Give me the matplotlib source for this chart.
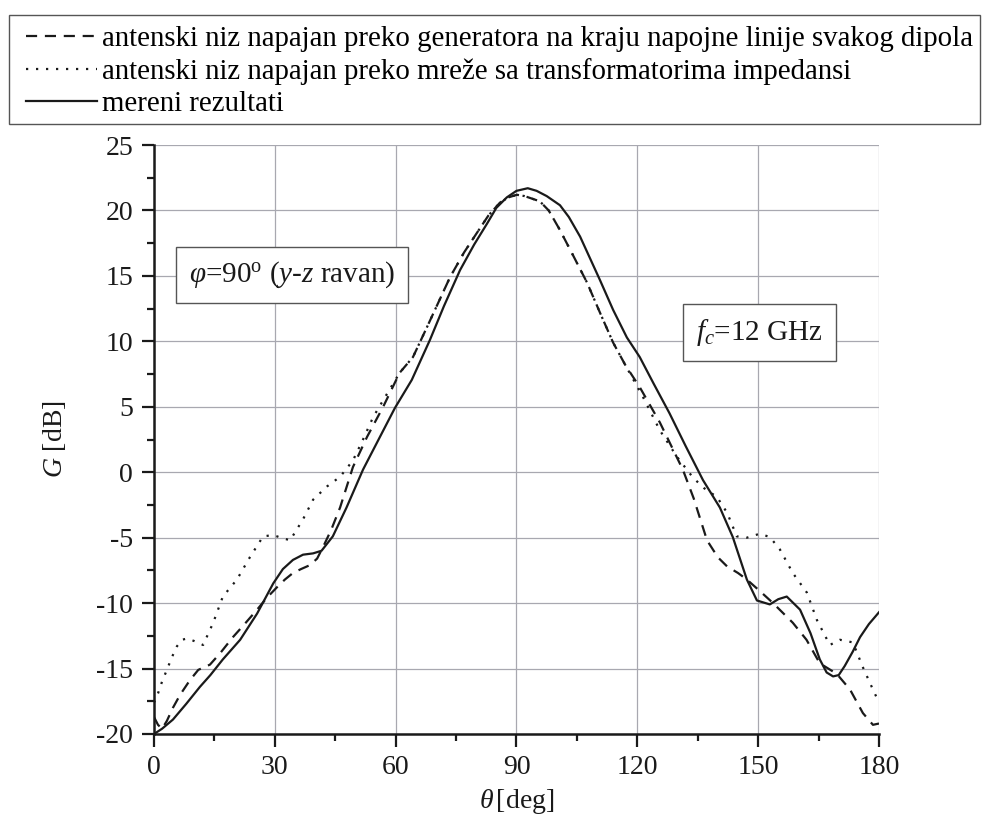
import matplotlib
matplotlib.use('Agg')
import matplotlib.pyplot as plt
from matplotlib.patches import Rectangle
from matplotlib.ticker import MultipleLocator

plt.rcParams['font.family'] = ['Liberation Serif', 'DejaVu Serif']
plt.rcParams['mathtext.fontset'] = 'custom'
plt.rcParams['mathtext.rm'] = 'Liberation Serif'
plt.rcParams['mathtext.it'] = 'Liberation Serif:italic'
plt.rcParams['axes.unicode_minus'] = False

# measured results (solid)
theta_meas = [0, 2, 4.7, 8, 11.4, 14, 17.1, 21.4, 25.6, 29.6, 32, 34.5, 37, 39.5, 41.6,
              44.4, 47.8, 51.9, 56.1, 59.8, 64, 68.5, 72, 76, 79.5, 82.7, 85, 87.6, 90,
              92.8, 95, 97.5, 100.8, 103, 105.8, 110.7, 114, 117.4, 120.6, 124, 128, 132,
              136.3, 140.5, 143.7, 147.2, 149.7, 152.9, 155, 157.1, 160.4, 163, 165.3, 167,
              168.6, 170, 171.5, 173.5, 175.3, 177.5, 180]
g_meas = [-20, -19.6, -18.9, -17.7, -16.4, -15.5, -14.3, -12.8, -10.8, -8.5, -7.4, -6.7,
          -6.3, -6.2, -6.0, -4.9, -2.7, 0.2, 2.7, 4.9, 7.05, 10.1, 12.7, 15.45, 17.4, 19.0,
          20.2, 21.0, 21.5, 21.7, 21.5, 21.1, 20.4, 19.5, 18.0, 14.7, 12.4, 10.3, 8.8, 6.8,
          4.5, 2.0, -0.6, -2.7, -4.95, -8.2, -9.8, -10.1, -9.7, -9.5, -10.5, -12.3, -14.3,
          -15.3, -15.6, -15.5, -14.8, -13.7, -12.6, -11.6, -10.7]

# generator at end of feed line (dashed)
theta_gen = [0, 1, 2, 3.2, 4.7, 6.5, 8.9, 11, 13.9, 16.5, 19.6, 22.5, 25.6, 28, 30.5, 32.5,
             34.5, 36.5, 38.7, 40.5, 42, 44, 46.2, 49.4, 52.9, 56.9, 61, 64.3, 67.8, 73.5,
             77, 80.2, 83, 85.9, 88, 90.1, 92, 95.8, 98, 100.8, 104, 107.5, 111, 114, 117,
             120.6, 125.6, 131.3, 134, 137.3, 140, 142.3, 145, 147.2, 150.5, 153.7, 158.6,
             162, 165.3, 169.5, 172.8, 176, 178.5, 180]
g_gen = [-18.7, -19.3, -19.6, -19.0, -18.0, -17.0, -15.9, -15.1, -14.7, -13.8, -12.6, -11.6,
         -10.5, -9.6, -8.8, -8.2, -7.7, -7.4, -7.1, -6.6, -5.7, -4.4, -2.7, 0.4, 2.7, 5.0,
         7.6, 8.8, 11.1, 14.9, 16.8, 18.3, 19.6, 20.6, 21.0, 21.2, 21.1, 20.7, 20.0, 18.5,
         16.6, 14.5, 12.0, 9.9, 8.2, 6.5, 3.8, 0.2, -2.0, -5.2, -6.5, -7.2, -7.7, -8.2,
         -9.1, -10.0, -11.5, -12.8, -14.6, -15.4, -16.6, -18.4, -19.3, -19.2]

# network with impedance transformers (dotted)
theta_net = [0, 1, 2, 3.2, 4.5, 5.7, 7, 8.2, 10, 12.2, 14.7, 17.1, 20.6, 23.8, 27.1, 29.6,
             31.5, 33.8, 37, 39.5, 42.9, 46.2, 49.4, 51.9, 54.4, 56.9, 61, 64.3, 67.8, 73.5,
             77, 80.2, 83, 85.9, 88, 90.1, 92, 95.8, 98, 100.8, 104, 107.5, 111, 114, 117,
             121.4, 125.6, 129.8, 133.8, 136.5, 139.8, 142.3, 144.7, 147.2, 150.4, 152.9,
             155.4, 158.6, 162.1, 164.6, 167.8, 170.3, 173.5, 176, 178.2, 180]
g_net = [-17.6, -16.9, -16.0, -15.1, -14.1, -13.3, -12.8, -12.7, -12.9, -13.2, -11.5, -9.5,
         -8.2, -6.5, -4.9, -4.8, -5.0, -5.2, -3.6, -2.1, -1.1, -0.35, 0.9, 2.5, 4.2, 5.5,
         7.6, 8.8, 11.1, 14.9, 16.8, 18.3, 19.6, 20.6, 21.0, 21.2, 21.1, 20.7, 20.0, 18.5,
         16.6, 14.5, 12.0, 9.9, 8.2, 5.75, 3.2, 1.2, -0.4, -1.2, -1.9, -3.1, -4.9, -5.0,
         -4.7, -4.95, -5.9, -7.7, -9.2, -11.3, -13.2, -12.8, -13.0, -14.9, -16.4, -17.6]

labels = ['antenski niz napajan preko generatora na kraju napojne linije svakog dipola',
          'antenski niz napajan preko mreže sa transformatorima impedansi',
          'mereni rezultati']

fig = plt.figure(figsize=(9.82, 8.18), dpi=100)
ax = fig.add_axes([0.1568, 0.1027, 0.7383, 0.72])

l1, = ax.plot(theta_gen, g_gen, color='#1a1a1a', lw=1.6, linestyle=(0, (5, 3.5)))
l2, = ax.plot(theta_net, g_net, color='#1a1a1a', lw=1.6, linestyle=(0, (1, 3.5)))
l3, = ax.plot(theta_meas, g_meas, color='#1a1a1a', lw=1.6)

ax.set_xlim(0, 180)
ax.set_ylim(-20, 25)
ax.xaxis.set_major_locator(MultipleLocator(30))
ax.xaxis.set_minor_locator(MultipleLocator(15))
ax.yaxis.set_major_locator(MultipleLocator(5))
ax.yaxis.set_minor_locator(MultipleLocator(2.5))
ax.tick_params(which='major', direction='out', length=9, width=1.6, labelsize=20,
               colors='#1a1a1a', pad=6)
ax.tick_params(which='minor', direction='out', length=5, width=1.6, colors='#1a1a1a')
ax.grid(True, which='major', color='#a8a8b0', lw=0.9)
ax.xaxis.get_major_ticks()[-1].gridline.set_visible(False)
ax.yaxis.get_major_ticks()[-1].gridline.set_visible(False)
ax.set_axisbelow(True)
for s in ['top', 'right']:
    ax.spines[s].set_visible(False)
for s in ['left', 'bottom']:
    ax.spines[s].set_linewidth(1.8)
    ax.spines[s].set_color('#1a1a1a')

ax.set_xlabel(r'$\theta\,$[deg]', fontsize=20, color='#1a1a1a', labelpad=5)
ax.set_ylabel(r'$G$ [dB]', fontsize=20, color='#1a1a1a', labelpad=20)

box = dict(boxstyle='square,pad=0.45', facecolor='white', edgecolor='#555555', lw=1)
ax.text(34.3, 15.07, r'$\varphi$=90$^{\mathrm{o}}$ ($y$-$z$ ravan)', fontsize=21,
        ha='center', va='center', bbox=box, color='#1a1a1a')
ax.text(150.4, 10.7, r'$f_c$=12 GHz', fontsize=21, ha='center', va='center',
        bbox=box, color='#1a1a1a')

# legend frame spanning the top of the figure
fig.patches.append(Rectangle((0.0092, 0.8484), 0.9888, 0.1333, transform=fig.transFigure,
                             facecolor='none', edgecolor='#555555', lw=1))
fig.legend([l1, l2, l3], labels, loc='upper left', bbox_to_anchor=(0.0265, 0.9685),
           borderaxespad=0, borderpad=0, fontsize=20.8, frameon=False,
           handlelength=2.45, handletextpad=0.17, labelspacing=0.2)

fig.savefig('out.png', dpi=100)
